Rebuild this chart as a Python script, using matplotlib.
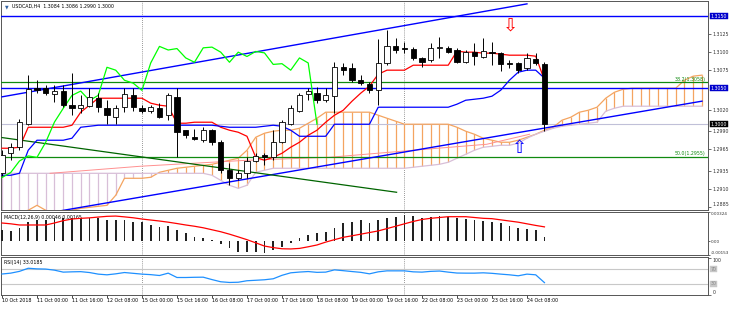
import matplotlib
matplotlib.use('Agg')
import matplotlib.pyplot as plt
from matplotlib.transforms import blended_transform_factory

# --- USDCAD H4 candles (bar 0 = 10 Oct 08:00) ---
opens = [1.2932, 1.2960, 1.2968, 1.3001, 1.3050, 1.3050, 1.3042, 1.3046, 1.3026, 1.3022,
         1.3025, 1.3036, 1.3022, 1.3010, 1.3024, 1.3040, 1.3022, 1.3018, 1.3022, 1.3013,
         1.3038, 1.2992, 1.2982, 1.2978, 1.2992, 1.2976, 1.2936, 1.2926, 1.2933, 1.2949,
         1.2957, 1.2954, 1.2975, 1.3001, 1.3019, 1.3042, 1.3044, 1.3033, 1.3039, 1.3079,
         1.3078, 1.3062, 1.3056, 1.3047, 1.3085, 1.3108, 1.3106, 1.3105, 1.3092, 1.3089,
         1.3106, 1.3106, 1.3103, 1.3086, 1.3100, 1.3093, 1.3100, 1.3099, 1.3085, 1.3085,
         1.3078, 1.3090, 1.3084]
highs = [1.2964, 1.2974, 1.3007, 1.3068, 1.3062, 1.3054, 1.3054, 1.3054, 1.3071, 1.3040,
         1.3050, 1.3044, 1.3033, 1.3026, 1.3050, 1.3050, 1.3026, 1.3026, 1.3029, 1.3043,
         1.3050, 1.2992, 1.2994, 1.2996, 1.2994, 1.2978, 1.2946, 1.2936, 1.2954, 1.2960,
         1.2960, 1.2992, 1.3006, 1.3026, 1.3044, 1.3050, 1.3051, 1.3050, 1.3086, 1.3085,
         1.3085, 1.3068, 1.3058, 1.3118, 1.3131, 1.3119, 1.3114, 1.3107, 1.3093, 1.3113,
         1.3121, 1.3108, 1.3106, 1.3103, 1.3113, 1.3119, 1.3114, 1.3100, 1.3089, 1.3086,
         1.3099, 1.3099, 1.3086]
lows = [1.2928, 1.2950, 1.2964, 1.2999, 1.3043, 1.3040, 1.3031, 1.3024, 1.3013, 1.3015,
        1.3024, 1.3017, 1.3001, 1.3001, 1.3017, 1.3019, 1.3015, 1.3015, 1.3008, 1.3006,
        1.2954, 1.2981, 1.2978, 1.2975, 1.2971, 1.2933, 1.2915, 1.2922, 1.2926, 1.2947,
        1.2943, 1.2950, 1.2974, 1.2999, 1.3017, 1.3033, 1.3029, 1.3031, 1.3015, 1.3068,
        1.3058, 1.3054, 1.3044, 1.3026, 1.3082, 1.3099, 1.3099, 1.3089, 1.3079, 1.3086,
        1.3092, 1.3099, 1.3085, 1.3085, 1.3082, 1.3092, 1.3082, 1.3074, 1.3078, 1.3071,
        1.3075, 1.3082, 1.2990]
closes = [1.2957, 1.2968, 1.3003, 1.3049, 1.3048, 1.3043, 1.3046, 1.3026, 1.3022, 1.3026,
          1.3038, 1.3024, 1.3013, 1.3022, 1.3042, 1.3024, 1.3019, 1.3024, 1.3010, 1.3040,
          1.2989, 1.2985, 1.2979, 1.2992, 1.2976, 1.2936, 1.2926, 1.2933, 1.2949, 1.2956,
          1.2954, 1.2975, 1.3003, 1.3022, 1.3040, 1.3046, 1.3033, 1.3040, 1.3079, 1.3075,
          1.3061, 1.3057, 1.3047, 1.3085, 1.3108, 1.3103, 1.3105, 1.3092, 1.3086, 1.3106,
          1.3107, 1.3100, 1.3086, 1.3100, 1.3094, 1.3101, 1.3099, 1.3083, 1.3084, 1.3075,
          1.3092, 1.3085, 1.3000]

# --- Ichimoku lines ---
tenkan = [1.29667, 1.29667, 1.29681, 1.29958, 1.29958, 1.29958, 1.29958, 1.29958, 1.29986, 1.30167,
          1.30264, 1.30361, 1.30361, 1.30361, 1.30361, 1.30361, 1.30361, 1.30292, 1.30264, 1.30250,
          1.30014, 1.30014, 1.30028, 1.30028, 1.30028, 1.29958, 1.29917, 1.29889, 1.29833, 1.29542,
          1.29500, 1.29542, 1.29597, 1.29681, 1.29750, 1.29847, 1.29917, 1.30028, 1.30125, 1.30194,
          1.30319, 1.30431, 1.30528, 1.30694, 1.30750, 1.30750, 1.30750, 1.30819, 1.30819, 1.30819,
          1.30819, 1.30819, 1.31014, 1.31000, 1.31000, 1.30986, 1.30986, 1.30972, 1.30958, 1.30958,
          1.30958, 1.30944, 1.30611]
kijun = [1.29292, 1.29292, 1.29319, 1.29639, 1.29778, 1.29778, 1.29778, 1.29778, 1.29806, 1.29958,
         1.29972, 1.29986, 1.29986, 1.29986, 1.29986, 1.29986, 1.29986, 1.29986, 1.29986, 1.29986,
         1.29986, 1.29986, 1.29986, 1.29986, 1.29986, 1.29972, 1.29958, 1.29958, 1.29958, 1.29958,
         1.29972, 1.29986, 1.29972, 1.29917, 1.29833, 1.29833, 1.29833, 1.29833, 1.30000, 1.30000,
         1.30000, 1.30000, 1.30000, 1.30236, 1.30236, 1.30236, 1.30236, 1.30236, 1.30236, 1.30236,
         1.30236, 1.30236, 1.30278, 1.30333, 1.30347, 1.30361, 1.30389, 1.30472, 1.30611, 1.30722,
         1.30750, 1.30750, 1.30639]
senkou_a = [1.28764, 1.28778, 1.28778, 1.28806, 1.28875, 1.28806, 1.28778, 1.28778, 1.28806, 1.28833,
            1.28847, 1.28861, 1.28875, 1.29014, 1.29250, 1.29250, 1.29250, 1.29264, 1.29333, 1.29361,
            1.29389, 1.29403, 1.29417, 1.29430, 1.29444, 1.29472, 1.29500, 1.29528, 1.29639, 1.29819,
            1.29875, 1.29903, 1.29917, 1.29917, 1.29944, 1.30014, 1.30083, 1.30167, 1.30167, 1.30167,
            1.30167, 1.30167, 1.30167, 1.30125, 1.30083, 1.30042, 1.30000, 1.30000, 1.30000, 1.30000,
            1.30000, 1.30000, 1.29958, 1.29903, 1.29861, 1.29806, 1.29778, 1.29750, 1.29750, 1.29778,
            1.29819, 1.29861, 1.29917, 1.29958, 1.30056, 1.30097, 1.30167, 1.30194, 1.30236, 1.30361,
            1.30444, 1.30486, 1.30500, 1.30500, 1.30500, 1.30500, 1.30500, 1.30500, 1.30611, 1.30667,
            1.30681]
senkou_b = [1.29319] * 24 + [
            1.29292, 1.29222, 1.29153, 1.29111, 1.29153, 1.29333, 1.29361] + [1.29389] * 16 + [
            1.29403, 1.29417, 1.29430, 1.29444, 1.29472, 1.29528, 1.29583, 1.29639, 1.29680, 1.29694,
            1.29708, 1.29708, 1.29736, 1.29806, 1.29861, 1.29903, 1.29944, 1.29972, 1.29986, 1.30000,
            1.30014, 1.30028, 1.30181, 1.30222] + [1.30250] * 10

# --- MACD(12,26,9) and RSI(14) ---
macd_hist = [0.00124, 0.00113, 0.00143, 0.00217, 0.00235, 0.00235, 0.00254, 0.00261, 0.00254, 0.00254,
             0.00261, 0.00261, 0.00235, 0.00235, 0.00235, 0.00217, 0.00210, 0.00180, 0.00161, 0.00172,
             0.00124, 0.00088, 0.00050, 0.00032, 0.00010, -0.00034, -0.00079, -0.00116, -0.00123, -0.00116,
             -0.00134, -0.00098, -0.00061, -0.00024, 0.00032, 0.00069, 0.00088, 0.00105, 0.00150, 0.00198,
             0.00217, 0.00235, 0.00198, 0.00235, 0.00254, 0.00272, 0.00291, 0.00283, 0.00261, 0.00272,
             0.00280, 0.00272, 0.00254, 0.00246, 0.00235, 0.00224, 0.00210, 0.00198, 0.00172, 0.00150,
             0.00135, 0.00124, 0.00046]
macd_signal = [0.00202, 0.00193, 0.00180, 0.00180, 0.00180, 0.00180, 0.00202, 0.00228, 0.00246, 0.00254,
               0.00259, 0.00268, 0.00276, 0.00279, 0.00270, 0.00260, 0.00246, 0.00235, 0.00224, 0.00211,
               0.00196, 0.00180, 0.00166, 0.00149, 0.00127, 0.00105, 0.00078, 0.00048, 0.00017, -0.00018,
               -0.00054, -0.00071, -0.00084, -0.00086, -0.00080, -0.00062, -0.00042, -0.00010, 0.00017, 0.00043,
               0.00060, 0.00078, 0.00096, 0.00114, 0.00140, 0.00166, 0.00193, 0.00219, 0.00241, 0.00254,
               0.00263, 0.00272, 0.00272, 0.00272, 0.00263, 0.00254, 0.00250, 0.00237, 0.00224, 0.00211,
               0.00193, 0.00175, 0.00159]
rsi = [56.7, 59.1, 64.0, 72.5, 70.9, 70.3, 67.3, 61.9, 62.7, 63.2,
       60.8, 56.4, 54.5, 57.2, 60.8, 58.6, 56.4, 55.0, 52.6, 59.1,
       47.1, 47.1, 47.7, 48.0, 41.4, 35.4, 33.5, 34.1, 38.2, 39.5,
       40.9, 43.6, 53.1, 60.0, 62.1, 63.5, 61.3, 61.9, 68.1, 65.9,
       63.5, 61.3, 57.2, 62.7, 65.4, 65.4, 65.4, 62.7, 61.9, 64.0,
       64.9, 61.9, 59.4, 59.1, 59.1, 60.0, 58.6, 56.4, 54.5, 51.8,
       56.4, 54.5, 33.0]

# --- drawn objects: (bar, price) end points ---
upper_channel = [(0, 1.3038), (60, 1.3167)]
lower_channel = [(0, 1.2866), (80, 1.3032)]
green_trend = [(0, 1.29815), (45.1, 1.29056)]
pink_line_x = [5.5, 15.8, 28, 37.5, 48.4, 55.4, 60.3]
pink_line_y = [1.29319, 1.29417, 1.29500, 1.29542, 1.29653, 1.29722, 1.29861]
blue_levels = [1.3150, 1.3050]
fib_levels = [1.3058, 1.2955]
fib_names = ['38.2(1.3058)', '50.0(1.2955)']
week_breaks = [16, 46]

date_pos = [0, 4, 8, 12, 16, 20, 24, 28, 32, 36, 40, 44, 48, 52, 56, 60]
date_labels = ['10 Oct 2018', '11 Oct 00:00', '11 Oct 16:00', '12 Oct 08:00', '15 Oct 00:00',
               '15 Oct 16:00', '16 Oct 08:00', '17 Oct 00:00', '17 Oct 16:00', '18 Oct 08:00',
               '19 Oct 00:00', '19 Oct 16:00', '22 Oct 08:00', '23 Oct 00:00', '23 Oct 16:00',
               '24 Oct 08:00']
price_ticks = [1.3125, 1.3100, 1.3075, 1.3020, 1.2990, 1.2965, 1.2935, 1.2910, 1.2885]

plt.rcParams['font.family'] = ['DejaVu Sans']
fs = 3.4
n = len(closes)
bars = list(range(n))
cloud_x = list(range(len(senkou_a)))
xlim = (-0.11, 80.69)

fig = plt.figure(figsize=(7.30, 3.09), dpi=100)
ax = fig.add_axes([0.00137, 0.3204, 0.9685, 0.6764])
ax_m = fig.add_axes([0.00137, 0.1748, 0.9685, 0.1391])
ax_r = fig.add_axes([0.00137, 0.0453, 0.9685, 0.1230])

for a in (ax, ax_m, ax_r):
    a.set_xlim(*xlim)
    a.yaxis.tick_right()
    a.tick_params(axis='y', labelsize=fs, length=2, width=0.5, pad=1.2, colors='#333333')
    a.tick_params(axis='x', length=0, labelbottom=False)
    for s in a.spines.values():
        s.set_linewidth(0.7)
        s.set_color('#555555')
    for wb in week_breaks:
        a.axvline(wb, color='#777777', ls=(0, (1, 1.5)), lw=0.6, zorder=1)

# ---- main panel ----
ax.set_ylim(1.2881, 1.3171)

# Kumo hatch
for i in cloud_x:
    col = '#f4a460' if senkou_a[i] >= senkou_b[i] else '#d8bfd8'
    ax.vlines(i, min(senkou_a[i], senkou_b[i]), max(senkou_a[i], senkou_b[i]), color=col, lw=0.9, zorder=2)
ax.plot(cloud_x, senkou_a, color='#f4a460', lw=0.9, zorder=3)
ax.plot(cloud_x, senkou_b, color='#d8bfd8', lw=0.9, zorder=3)

ax.axhline(closes[-1], color='#c0c0d8', lw=0.8, zorder=2)
ax.plot(pink_line_x, pink_line_y, color='#ff9090', lw=0.7, zorder=3)

for lv in blue_levels:
    ax.axhline(lv, color='#0000ff', lw=1.0, zorder=3)
for lv in fib_levels:
    ax.axhline(lv, color='#108a10', lw=0.9, zorder=3)
tr = blended_transform_factory(ax.transAxes, ax.transData)
for lv, nm in zip(fib_levels, fib_names):
    ax.text(0.997, lv + 0.0001, nm, transform=tr, ha='right', va='bottom', fontsize=fs, color='#108a10')

ax.plot(*zip(*upper_channel), color='#0000ff', lw=1.0, zorder=4)
ax.plot(*zip(*lower_channel), color='#0000ff', lw=1.0, zorder=4)
ax.plot(*zip(*green_trend), color='#006400', lw=0.9, zorder=4)

ax.plot(bars, tenkan, color='#ff0000', lw=0.9, zorder=5)
ax.plot(bars, kijun, color='#0000ff', lw=0.9, zorder=5)
ax.plot(bars[:n - 26], closes[26:], color='#00ff00', lw=0.9, zorder=5)

# candles
for i in bars:
    o, h, l, c = opens[i], highs[i], lows[i], closes[i]
    ax.vlines(i, l, h, color='black', lw=0.7, zorder=6)
    up = c >= o
    ax.bar(i, max(abs(c - o), 0.00002), bottom=min(o, c), width=0.6,
           color='white' if up else 'black', edgecolor='black', lw=0.6, zorder=7)

ax.set_yticks(price_ticks)
ax.set_yticklabels(['%.4f' % v for v in price_ticks])
ax.get_yticklabels()[-1].set_va('bottom')

def tag(a, y, txt, bg, fg='white'):
    t = blended_transform_factory(a.transAxes, a.transData)
    a.text(1.004, y, txt, transform=t, ha='left', va='center', fontsize=fs, color=fg,
           bbox=dict(boxstyle='square,pad=0.12', fc=bg, ec=bg, lw=0.3), zorder=10, clip_on=False)

tag(ax, 1.3150, '1.3150', '#0000cc')
tag(ax, 1.3050, '1.3050', '#0000cc')
tag(ax, 1.3000, '1.3000', 'black')

ax.text(58.06, 1.31375, '\u21e9', color='red', fontsize=13, ha='center', va='center', zorder=9)
ax.text(59.1, 1.29667, '\u21e7', color='#0000ff', fontsize=13, ha='center', va='center', zorder=9)
ax.text(0.005, 0.985, '\u25bc', transform=ax.transAxes, fontsize=fs, va='top', ha='left', color='#3060a0')
ax.text(0.016, 0.985, 'USDCAD,H4  1.3084 1.3086 1.2990 1.3000', transform=ax.transAxes,
        fontsize=fs, va='top', ha='left', color='black', zorder=10)

# ---- MACD ----
ax_m.set_ylim(-0.00153, 0.00324)
ax_m.bar(bars, macd_hist, width=0.18, color='#222222', zorder=3)
ax_m.plot(bars, macd_signal, color='#ff0000', lw=0.9, zorder=4)
ax_m.set_yticks([0.00324, 0.0, -0.00153])
ax_m.set_yticklabels(['0.00324', '0.00', '-0.00153'])
ax_m.tick_params(axis='y', labelsize=3.0, pad=0.6, length=1.5)
ml = ax_m.get_yticklabels()
ml[0].set_va('top')
ml[2].set_va('bottom')
ax_m.text(0.004, 0.93, 'MACD(12,26,9) 0.00046 0.00165', transform=ax_m.transAxes,
          fontsize=fs, va='top', ha='left')

# ---- RSI ----
ax_r.set_ylim(-1, 103.5)
ax_r.axhline(70, color='#c8c8c8', lw=0.8, zorder=2)
ax_r.axhline(30, color='#c8c8c8', lw=0.8, zorder=2)
ax_r.plot(bars, rsi, color='#1e90ff', lw=0.9, zorder=4)
ax_r.set_yticks([100, 0])
ax_r.set_yticklabels(['100', '0'])
rl = ax_r.get_yticklabels()
rl[0].set_va('top')
rl[1].set_va('bottom')
tag(ax_r, 70, '70', '#c8c8c8', '#888888')
tag(ax_r, 30, '30', '#c8c8c8', '#888888')
ax_r.text(0.004, 0.93, 'RSI(14) 33.0185', transform=ax_r.transAxes, fontsize=fs, va='top', ha='left')

ax_r.set_xticks(date_pos)
ax_r.tick_params(axis='x', length=2, width=0.5, direction='out')
dtr = blended_transform_factory(ax_r.transData, ax_r.transAxes)
for p, lab in zip(date_pos, date_labels):
    ax_r.text(p, -0.07, lab, transform=dtr, fontsize=fs, ha='left', va='top')

fig.savefig('out.png', dpi=100)
